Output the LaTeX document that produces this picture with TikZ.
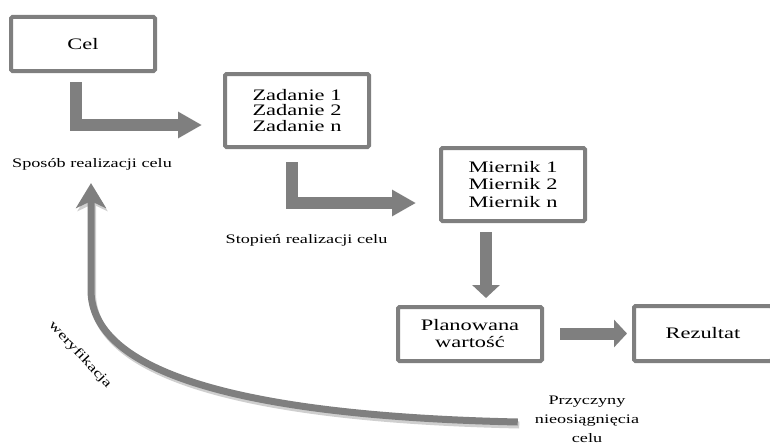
\documentclass[tikz,border=0pt]{standalone}
\usepackage{fontspec}
\setmainfont{Liberation Serif}[FakeStretch=1.4]
\usetikzlibrary{arrows.meta,calc}
\definecolor{bordergray}{HTML}{7F7F7F}
\definecolor{shadowgray}{HTML}{CFCFCF}
\begin{document}
\begin{tikzpicture}[x=1pt,y=-1pt,
  diabox/.style={draw=bordergray, line width=4pt, rounded corners=1.5pt, fill=white,
    align=center, inner sep=0pt, minimum width=144pt, font=\fontsize{16}{16}\selectfont},
  blockarr/.style={draw=bordergray, line width=12pt, -{Triangle[width=25pt,length=24pt]}},
  shortarr/.style={draw=bordergray, line width=12pt, -{Triangle[width=27pt,length=13pt]}},
  curvarr/.style={draw=bordergray, line width=7pt, -{Stealth[width=30pt,length=25pt,inset=7pt]}},
  curvshadow/.style={draw=shadowgray, line width=7pt, -{Stealth[width=30pt,length=25pt,inset=7pt]}},
  lbl/.style={font=\fontsize{13}{19}\selectfont, inner sep=0pt, align=center}]
\useasboundingbox (0,0) rectangle (770,444);
\clip (0,0) rectangle (770,444);
% boxes
\node[diabox, minimum height=54pt] (cel) at (83,44) {Cel};
\node[diabox, minimum height=73pt, font=\fontsize{16}{15.5}\selectfont] (zad) at (297,110.5) {Zadanie 1\\Zadanie 2\\Zadanie n};
\node[diabox, minimum height=73pt, font=\fontsize{16}{17.5}\selectfont] (mier) at (513,184.5) {Miernik 1\\Miernik 2\\Miernik n};
\node[diabox, minimum height=54pt, font=\fontsize{16}{17}\selectfont] (plan) at (470,334) {Planowana\\wartość};
\node[diabox, minimum height=55pt, minimum width=138pt] (rez) at (703,333.5) {Rezultat};
% labels
\node[lbl] (spos) at (92,164) {Sposób realizacji celu};
\node[lbl] (stop) at (306.5,240) {Stopień realizacji celu};
\node[lbl] (przy) at (587,419) {Przyczyny\\nieosiągnięcia\\celu};
\node[lbl, rotate=-47] (wer) at (80,355) {weryfikacja};
% block arrows
\draw[blockarr] ([xshift=-7pt,yshift=-9pt]cel.south) |- ([xshift=-21pt,yshift=-14.5pt]zad.west);
\draw[blockarr] ([xshift=-5.5pt,yshift=-13pt]zad.south) |- ([xshift=-23pt,yshift=-18.5pt]mier.west);
\draw[shortarr] ([xshift=-27pt,yshift=-9pt]mier.south) -- ([xshift=16pt,yshift=7pt]plan.north);
\draw[shortarr] ([xshift=16pt,yshift=0.5pt]plan.east) -- ([xshift=-5pt]rez.west);
% curved feedback arrow
\begin{scope}[transform canvas={shift={(1.5pt,-3pt)}}]
\draw[curvshadow] ([xshift=-17pt,yshift=-3pt]przy.west) .. controls (200,415) and (91,360) .. (91,290) -- ([xshift=-1pt,yshift=-13pt]spos.south);
\end{scope}
\draw[curvarr] ([xshift=-17pt,yshift=-3pt]przy.west) .. controls (200,415) and (91,360) .. (91,290) -- ([xshift=-1pt,yshift=-13pt]spos.south);
\end{tikzpicture}
\end{document}
